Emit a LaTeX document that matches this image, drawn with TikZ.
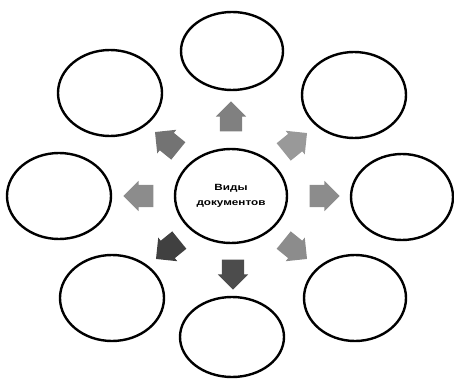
\documentclass[tikz,border=0pt]{standalone}
\usepackage{fontspec}
\setmainfont{Liberation Sans}
\usetikzlibrary{shapes.geometric,shapes.arrows}
\begin{document}
\begin{tikzpicture}[x=1pt,y=-1pt,
  oval/.style={draw=black,line width=2.4pt,ellipse,inner sep=0pt},
  blockarrow/.style={single arrow,draw=none,fill=#1,inner xsep=0pt,inner ysep=11pt,
    minimum height=30pt,single arrow head extend=4pt,
    single arrow tip angle=90},
  blockarrow/.default=black!55]
\useasboundingbox (0,0) rectangle (454,382);
\node[oval,minimum width=112pt,minimum height=94pt,align=center,
  font=\fontsize{9}{14.5}\selectfont\bfseries] (c) at (231,196)
  {\scalebox{1.3}[1]{Виды}\\\scalebox{1.3}[1]{документов}};
\node[oval,minimum width=102pt,minimum height=78pt] (t) at (232,51) {};
\node[oval,minimum width=104pt,minimum height=86pt] (tl) at (110,93) {};
\node[oval,minimum width=104pt,minimum height=86pt] (tr) at (354,95) {};
\node[oval,minimum width=104pt,minimum height=86pt] (l) at (59,196) {};
\node[oval,minimum width=102pt,minimum height=86pt] (r) at (402,197) {};
\node[oval,minimum width=104pt,minimum height=86pt] (bl) at (112,298) {};
\node[oval,minimum width=102pt,minimum height=86pt] (br) at (355,298) {};
\node[oval,minimum width=104pt,minimum height=80pt] (b) at (232,337) {};
\node[blockarrow=black!50,rotate=90] (at) at (231,122) {};
\node[blockarrow=black!55,rotate=141] (atl) at (171,145) {};
\node[blockarrow=black!40,rotate=39] (atr) at (291,146) {};
\node[blockarrow=black!45,rotate=180] (al) at (144,196) {};
\node[blockarrow=black!45,rotate=0] (ar) at (319,196) {};
\node[blockarrow=black!75,rotate=219] (abl) at (172,246) {};
\node[blockarrow=black!70,rotate=270] (ab) at (233,269) {};
\node[blockarrow=black!45,rotate=321] (abr) at (291,246) {};
\end{tikzpicture}
\end{document}
